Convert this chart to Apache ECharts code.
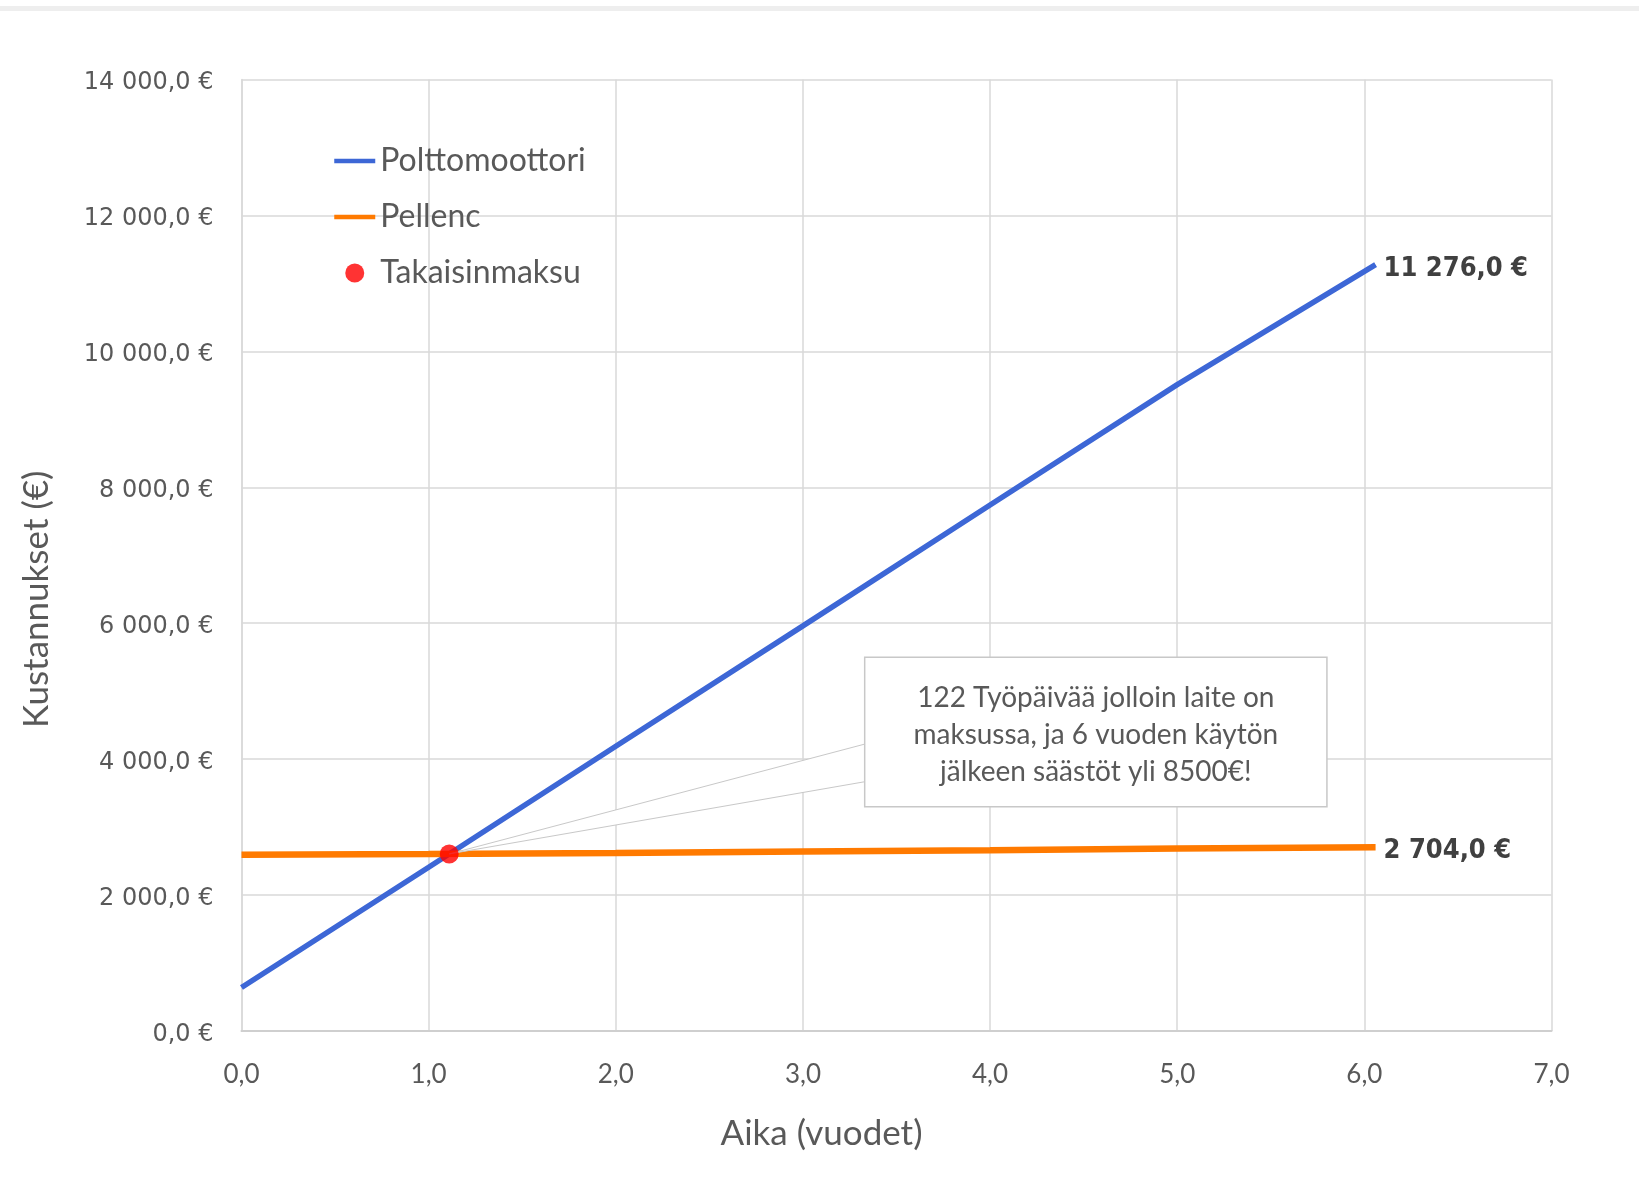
<!DOCTYPE html>
<html>
<head>
<meta charset="utf-8">
<script src="https://cdn.jsdelivr.net/npm/echarts@6/dist/echarts.min.js"></script>
<style>
  html, body { margin: 0; padding: 0; background: #ffffff; }
  #chart { width: 1639px; height: 1178px; }
</style>
</head>
<body>
<div id="chart"></div>
<script>
// ---- Data ----
const years = [0, 1, 2, 3, 4, 5, 6.06];
const polttomoottori = [640, 2410, 4190, 5960, 7740, 9510, 11276];
const pellenc = [2595, 2605, 2620, 2640, 2660, 2685, 2704];
const takaisinmaksu = [[1.11, 2605]];
const seriesNames = ['Polttomoottori', 'Pellenc', 'Takaisinmaksu'];
const xAxisTitle = 'Aika (vuodet)';
const yAxisTitle = 'Kustannukset (€)';
const calloutLines = ['122 Työpäivää jolloin laite on', 'maksussa, ja 6 vuoden käytön', 'jälkeen säästöt yli 8500€!'];
const yRange = { min: 0, max: 14000, interval: 2000 };
const xRange = { min: 0, max: 7, interval: 1 };
// callout anchor in data coordinates
const calloutBox = { x0: 3.33, x1: 5.80, yTop: 5500, yBottom: 3300, wedgeTop: 4225, wedgeBottom: 3670 };

function fi(v, d) {
  const s = Number(v).toFixed(d);
  let parts = s.split('.');
  let i = parts[0].replace(/\B(?=(\d{3})+(?!\d))/g, ' ');
  return parts[1] !== undefined ? i + ',' + parts[1] : i;
}

const chart = echarts.init(document.getElementById('chart'), null, { renderer: 'canvas' });
const GRID = '#d9d9d9';
const TXT = '#595959';
const BLUE = '#3D67D6';
const ORANGE = '#FF7A00';

const option = {
  animation: false,
  backgroundColor: '#ffffff',
  grid: { left: 241.5, right: 87.5, top: 79.5, bottom: 147, containLabel: false },
  legend: {
    orient: 'vertical', left: 332, top: 144, padding: 0,
    itemWidth: 41, itemHeight: 19, itemGap: 22,
    textStyle: { fontFamily: 'Lato', fontSize: 32, color: TXT, lineHeight: 34 },
    data: [
      { name: seriesNames[0], itemStyle: { opacity: 0 }, lineStyle: { width: 4.5, color: BLUE } },
      { name: seriesNames[1], itemStyle: { opacity: 0 }, lineStyle: { width: 4.5, color: ORANGE } },
      { name: seriesNames[2] }
    ]
  },
  xAxis: {
    type: 'value', min: xRange.min, max: xRange.max, interval: xRange.interval,
    name: xAxisTitle, nameLocation: 'middle', nameGap: 85,
    nameTextStyle: { fontFamily: 'Lato', fontSize: 35, color: TXT, padding: [0, 150, 0, 0] },
    axisLine: { show: true, lineStyle: { color: '#cfcfcf', width: 2 } },
    axisTick: { show: false },
    axisLabel: { margin: 31, fontFamily: 'Lato', fontSize: 26, color: TXT,
      formatter: v => fi(v, 1) },
    splitLine: { show: true, lineStyle: { color: GRID, width: 1.5 } }
  },
  yAxis: {
    type: 'value', min: yRange.min, max: yRange.max, interval: yRange.interval,
    name: yAxisTitle, nameLocation: 'middle', nameGap: 187, nameRotate: 90,
    nameTextStyle: { fontFamily: 'Lato', fontSize: 35, color: TXT, padding: [0, 88, 0, 0] },
    axisLine: { show: true, lineStyle: { color: GRID, width: 1.5 } },
    axisTick: { show: false },
    axisLabel: { margin: 28, color: TXT,
      formatter: v => '{t|' + fi(v, 1) + ' €}',
      rich: { t: { fontFamily: 'DejaVu Sans', fontSize: 24, color: TXT, padding: [7, 0, 0, 0] } } },
    splitLine: { show: true, lineStyle: { color: GRID, width: 1.5 } }
  },
  series: [
    {
      name: seriesNames[0], type: 'line', symbol: 'none', z: 3,
      data: years.map((x, i) => [x, polttomoottori[i]]),
      lineStyle: { color: BLUE, width: 5.5 }, itemStyle: { color: BLUE },
      endLabel: { show: true, distance: 8, offset: [0, 4], formatter: p => fi(p.value[1], 1) + ' €',
        fontFamily: "'DejaVu Sans Condensed', 'DejaVu Sans'", fontWeight: 'bold', fontSize: 27, color: '#404040' }
    },
    {
      name: seriesNames[1], type: 'line', symbol: 'none', z: 4,
      data: years.map((x, i) => [x, pellenc[i]]),
      lineStyle: { color: ORANGE, width: 6.5 }, itemStyle: { color: ORANGE },
      endLabel: { show: true, distance: 8, offset: [0, 4], formatter: p => fi(p.value[1], 1) + ' €',
        fontFamily: "'DejaVu Sans Condensed', 'DejaVu Sans'", fontWeight: 'bold', fontSize: 27, color: '#404040' }
    },
    {
      name: seriesNames[2], type: 'scatter', symbol: 'circle', symbolSize: 19, z: 10,
      data: takaisinmaksu, itemStyle: { color: '#FF0000' }
    }
  ]
};
chart.setOption(option);

function drawCallout() {
  const tl = chart.convertToPixel({ gridIndex: 0 }, [calloutBox.x0, calloutBox.yTop]);
  const br = chart.convertToPixel({ gridIndex: 0 }, [calloutBox.x1, calloutBox.yBottom]);
  const w1 = chart.convertToPixel({ gridIndex: 0 }, [calloutBox.x0, calloutBox.wedgeTop]);
  const w2 = chart.convertToPixel({ gridIndex: 0 }, [calloutBox.x0, calloutBox.wedgeBottom]);
  const dot = chart.convertToPixel({ gridIndex: 0 }, takaisinmaksu[0]);
  chart.setOption({
    graphic: [
      { type: 'rect', id: 'topband', shape: { x: 0, y: 6, width: 1639, height: 5 },
        style: { fill: '#eeeeee' }, z: 1 },
      { type: 'polygon', id: 'wedge', z: 5,
        shape: { points: [[tl[0] + 1, w1[1]], dot, [tl[0] + 1, w2[1]]] },
        style: { fill: '#ffffff', stroke: '#c8c8c8', lineWidth: 1 } },
      { type: 'rect', id: 'box', z: 6,
        shape: { x: tl[0], y: tl[1], width: br[0] - tl[0], height: br[1] - tl[1] },
        style: { fill: 'rgba(0,0,0,0)', stroke: '#c8c8c8', lineWidth: 1.5 } },
      { type: 'rect', id: 'boxfill', z: 5,
        shape: { x: tl[0], y: tl[1], width: br[0] - tl[0], height: br[1] - tl[1] },
        style: { fill: '#ffffff' } },
      { type: 'text', id: 'boxtext', z: 7,
        x: (tl[0] + br[0]) / 2, y: (tl[1] + br[1]) / 2 + 3,
        style: { text: calloutLines.join('\n'), align: 'center', verticalAlign: 'middle',
          fontFamily: 'Lato', fontSize: 28, lineHeight: 37, fill: TXT } }
    ]
  });
}
drawCallout();
</script>
</body>
</html>
